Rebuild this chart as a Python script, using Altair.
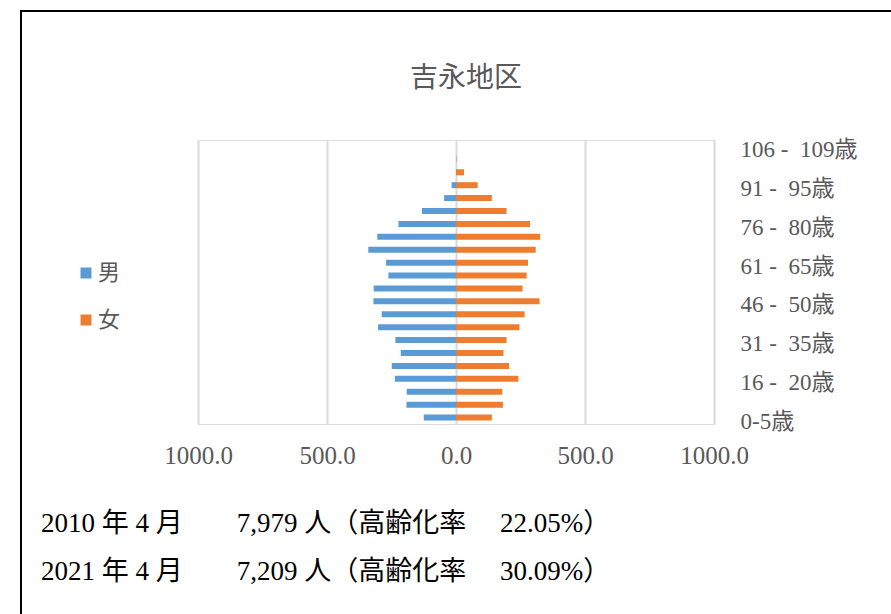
import altair as alt
import pandas as pd

# Age groups, bottom (youngest) to top (oldest)
ages = [
    "0-5歳", "6 - 10歳", "11 - 15歳", "16 - 20歳", "21 - 25歳", "26 - 30歳",
    "31 - 35歳", "36 - 40歳", "41 - 45歳", "46 - 50歳", "51 - 55歳", "56 - 60歳",
    "61 - 65歳", "66 - 70歳", "71 - 75歳", "76 - 80歳", "81 - 85歳", "86 - 90歳",
    "91 - 95歳", "96 - 100歳", "101 - 105歳", "106 - 109歳",
]
male = [125, 192, 191, 237, 249, 214, 235, 302, 288, 320, 319,
        262, 271, 340, 305, 223, 132, 46, 17, 0, 0, 0]
female = [139, 182, 179, 242, 206, 184, 196, 246, 266, 324, 258,
          274, 279, 309, 326, 287, 196, 139, 84, 31, 2, 0]

# Every third age group is labelled on the axis
shown_ages = ages[::3]

# Summary lines under the pyramid
years = [2010, 2021]
months = [4, 4]
totals = [7979, 7209]
aging_rate = [22.05, 30.09]

title_text = "吉永地区"
sexes = ["男", "女"]
colors = ["#5B9BD5", "#ED7D31"]

rows = []
for a, m, f in zip(ages, male, female):
    rows.append({"age": a, "sex": "男", "value": -m})
    rows.append({"age": a, "sex": "女", "value": f})
df = pd.DataFrame(rows)

SERIF = "Liberation Serif, Noto Sans CJK JP"
SANS = "Noto Sans CJK JP"
GREY = "#595959"

W, H = 516, 284
PAD_L, PAD_T = 198, 140

bars = alt.Chart(df).mark_bar(size=6).encode(
    x=alt.X(
        "value:Q",
        scale=alt.Scale(domain=[-1000, 1000], nice=False),
        axis=alt.Axis(
            values=[-1000, -500, 0, 500, 1000],
            labelExpr="format(abs(datum.value), '.1f')",
            title=None, domain=False, ticks=False, labelFlush=False,
            grid=True, gridColor="#D9D9D9", gridWidth=2,
            labelFont=SERIF, labelFontSize=25, labelColor=GREY,
            labelPadding=19,
        ),
    ),
    y=alt.Y(
        "age:N",
        sort=list(reversed(ages)),
        scale=alt.Scale(domain=list(reversed(ages))),
        axis=alt.Axis(
            orient="right", values=shown_ages, title=None,
            domain=False, ticks=False, grid=False,
            labelExpr="replace(datum.label, ' - ', ' -\u00a0\u00a0')",
            labelAlign="left", labelPadding=26, labelOffset=4,
            labelFont=SERIF, labelFontSize=23, labelColor=GREY,
        ),
    ),
    color=alt.Color(
        "sex:N",
        scale=alt.Scale(domain=sexes, range=colors),
        legend=alt.Legend(
            title=None, orient="none", legendX=-123, legendY=122,
            symbolType="square", symbolSize=121, symbolStrokeWidth=0,
            labelFont=SANS, labelFontSize=22, labelColor=GREY,
            labelOffset=1, rowPadding=25,
        ),
    ),
)

# Outer frame of the figure
frame = alt.Chart(pd.DataFrame({"k": [0]})).mark_rect(
    fillOpacity=0, stroke="#000000", strokeWidth=2
).encode(
    x=alt.value(21 - PAD_L), x2=alt.value(900 - PAD_L),
    y=alt.value(11 - PAD_T), y2=alt.value(700 - PAD_T),
)

title = alt.Chart(pd.DataFrame({"t": [title_text]})).mark_text(
    align="center", baseline="middle", font=SANS, fontSize=28,
    color=GREY,
).encode(text="t:N", x=alt.value(466 - PAD_L), y=alt.value(79 - PAD_T))

lines = [
    f"{y} 年 {mo} 月　　{t:,} 人（高齢化率　\u00a0{r:.2f}%）"
    for y, mo, t, r in zip(years, months, totals, aging_rate)
]
notes = []
for i, txt in enumerate(lines):
    notes.append(
        alt.Chart(pd.DataFrame({"t": [txt]})).mark_text(
            align="left", baseline="middle", font=SERIF, fontSize=27,
            color="#000000",
        ).encode(
            text="t:N",
            x=alt.value(41 - PAD_L),
            y=alt.value(524 + 48 * i - PAD_T),
        )
    )

chart = alt.layer(frame, bars, title, *notes).properties(
    width=W, height=H,
    autosize=alt.AutoSizeParams(type="none"),
    padding={"left": PAD_L, "top": PAD_T, "right": 891 - PAD_L - W,
             "bottom": 614 - PAD_T - H},
).configure_view(stroke=None).configure(background="white")

chart.save("out.html", embed_options={"renderer": "svg", "actions": False})
